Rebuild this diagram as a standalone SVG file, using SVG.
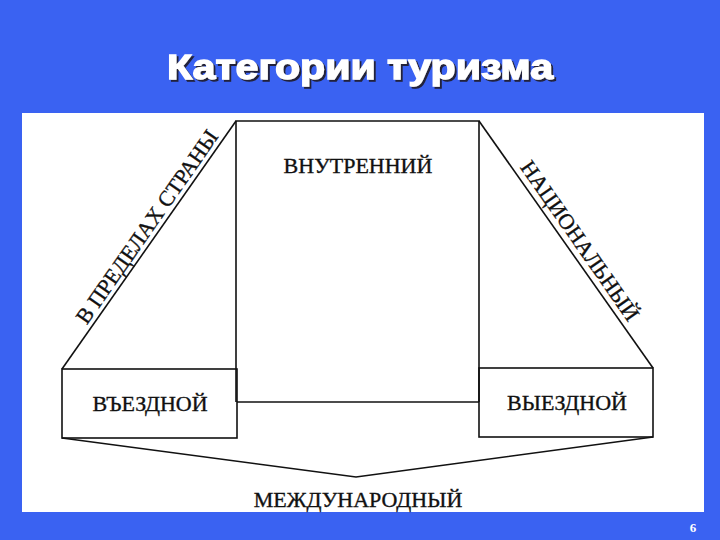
<svg xmlns="http://www.w3.org/2000/svg" width="720" height="540" viewBox="0 0 720 540">
<defs>
<filter id="shadow" x="-5%" y="-20%" width="110%" height="150%">
<feFlood flood-color="#22223a" result="c"/>
<feComposite in="c" in2="SourceAlpha" operator="in" result="s"/>
<feOffset in="s" dx="2" dy="2" result="o"/>
<feMerge><feMergeNode in="o"/><feMergeNode in="SourceGraphic"/></feMerge>
</filter>
</defs>
<style>
.ln{fill:none;stroke:#111;stroke-width:1.6;stroke-linejoin:miter}
.lbl{font-family:"Liberation Serif","Times New Roman",serif;font-size:22px;fill:#111;stroke:#111;stroke-width:0.35;text-anchor:middle}
.ttl{font-family:"Liberation Sans",Arial,sans-serif;font-size:35px;font-weight:bold;fill:#ffffff;stroke:#ffffff;stroke-width:1.3}
</style>
<rect x="0" y="0" width="720" height="540" fill="#3a62f2"/>
<g id="title" filter="url(#shadow)">
<text class="ttl" x="167" y="79" textLength="386" lengthAdjust="spacingAndGlyphs">Категории туризма</text>
</g>
<rect id="panel" x="22" y="113" width="682" height="399" fill="#ffffff"/>
<g id="connectors">
<polyline class="ln" points="62,369 236,121"/>
<polyline class="ln" points="479,121 653,368"/>
<polyline class="ln" points="62,438 356,477 653,437"/>
<line class="ln" x1="237" y1="402" x2="479" y2="402"/>
</g>
<g id="inner">
<polyline class="ln" points="236,402 236,121 479,121 479,402"/>
<text class="lbl" x="358" y="173">ВНУТРЕННИЙ</text>
</g>
<g id="inbound">
<rect class="ln" x="62" y="369" width="175" height="69"/>
<text class="lbl" x="150" y="411">ВЪЕЗДНОЙ</text>
</g>
<g id="outbound">
<rect class="ln" x="479" y="368" width="174" height="69"/>
<text class="lbl" x="567" y="410">ВЫЕЗДНОЙ</text>
</g>
<g id="domestic-label">
<text class="lbl" transform="translate(153,231) rotate(-55)">В ПРЕДЕЛАХ СТРАНЫ</text>
</g>
<g id="national-label">
<text class="lbl" transform="translate(574,245) rotate(55)">НАЦИОНАЛЬНЫЙ</text>
</g>
<g id="international">
<text class="lbl" x="358" y="507">МЕЖДУНАРОДНЫЙ</text>
</g>
<text x="693" y="532" font-family="Liberation Serif, serif" font-size="13" font-weight="bold" fill="#ffffff" text-anchor="middle">6</text>
</svg>
